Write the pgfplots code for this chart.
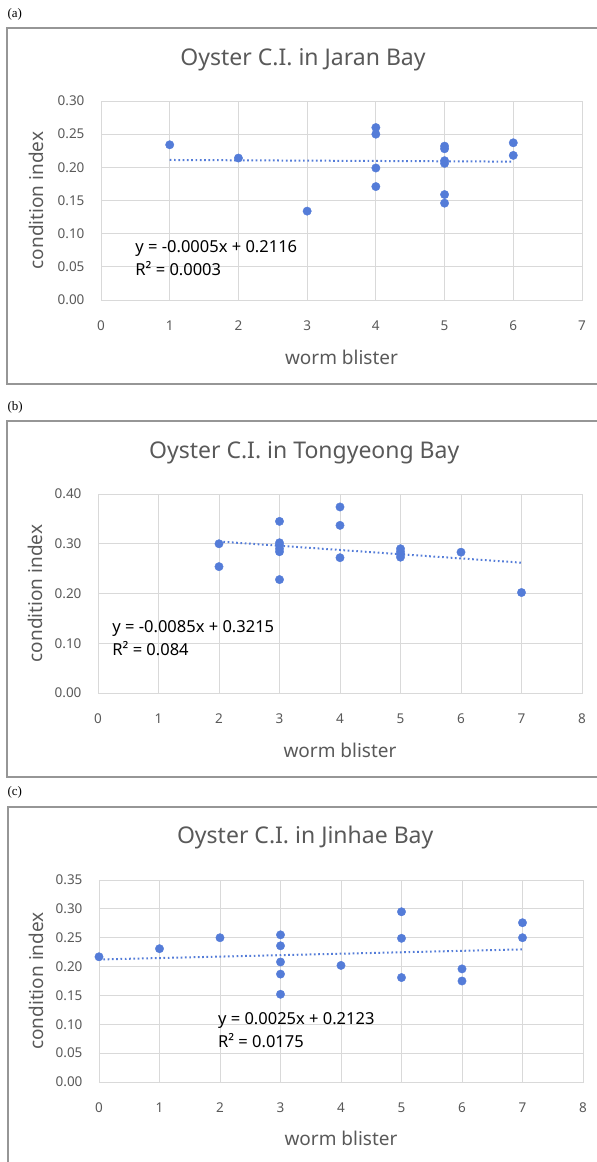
\documentclass[border=0pt]{standalone}
\usepackage{fontspec}
\setmainfont{Noto Sans}
\newfontfamily\serif{Liberation Serif}
\usepackage{pgfplots}
\pgfplotsset{compat=1.18}
\definecolor{ptblue}{RGB}{84,124,216}
\definecolor{txtgray}{RGB}{89,89,89}
\definecolor{gridgray}{RGB}{217,217,217}
\definecolor{framegray}{RGB}{150,150,150}

\pgfplotsset{
  oyster/.style={
    scale only axis,
    anchor=south west,
    xmin=0, ymin=0,
    xtick distance=1,
    grid=major,
    grid style={gridgray, line width=0.9pt},
    axis line style={gridgray, line width=0.9pt},
    major tick length=0pt,
    tick label style={txtgray, font=\fontsize{13.5}{15}\selectfont},
    /pgf/number format/assume math mode=true,
    yticklabel style={/pgf/number format/fixed, /pgf/number format/fixed zerofill,
      /pgf/number format/precision=2, xshift=-13pt},
    xticklabel style={yshift=-17pt},
    every axis title shift=0pt,
    title style={txtgray, font=\fontsize{23}{26}\selectfont, anchor=center},
    xlabel style={txtgray, font=\fontsize{19}{22}\selectfont, anchor=center},
    ylabel style={txtgray, font=\fontsize{19}{22}\selectfont, anchor=center},
    ylabel={condition index},
    xlabel={worm blister},
  },
  pts/.style={only marks, mark=*, mark size=4.2pt, ptblue},
  trend/.style={ptblue, line width=2pt, dash pattern=on 1.7pt off 2.6pt, no marks},
}
\tikzset{eq/.style={anchor=west, font=\fontsize{16.5}{20}\selectfont}}

\begin{document}
\begin{tikzpicture}[x=1pt, y=-1pt]
\clip (0,0) rectangle (597,1162);
\path[use as bounding box] (0,0) rectangle (597,1162);

% panel frames
\draw[framegray, line width=1.8pt] (7,28) rectangle (620,384);
\draw[framegray, line width=1.8pt] (7,421) rectangle (620,777);
\draw[framegray, line width=1.8pt] (8,807) rectangle (620,1190);
\node[anchor=west, font=\serif\fontsize{13}{15}\selectfont] at (4,14) {(a)};
\node[anchor=west, font=\serif\fontsize{13}{15}\selectfont] at (4,407) {(b)};
\node[anchor=west, font=\serif\fontsize{13}{15}\selectfont] at (4,792) {(c)};

% (a) Jaran Bay
\begin{axis}[oyster, at={(101pt,-300pt)}, width=481pt, height=199pt,
  xmax=7, ymax=0.30, ytick distance=0.05,
  title={Oyster C.I. in Jaran Bay},
  title style={at={(axis description cs:0.42,1.206)}},
  xlabel style={at={(axis description cs:0.5,-0.286)}},
  ylabel style={at={(axis description cs:-0.135,0.5)}}]
\addplot[pts] coordinates {
  (1,0.234) (2,0.214) (3,0.134)
  (4,0.260) (4,0.250) (4,0.199) (4,0.171)
  (5,0.232) (5,0.228) (5,0.210) (5,0.206) (5,0.159) (5,0.146)
  (6,0.237) (6,0.218)};
\addplot[trend] coordinates {(1,0.2111) (6,0.2086)};
\node[eq] at (axis cs:0.45,0.077) {y = -0.0005x + 0.2116};
\node[eq] at (axis cs:0.45,0.048) {R² = 0.0003};
\end{axis}

% (b) Tongyeong Bay
\begin{axis}[oyster, at={(98pt,-693pt)}, width=484pt, height=199pt,
  xmax=8, ymax=0.40, ytick distance=0.10,
  title={Oyster C.I. in Tongyeong Bay},
  title style={at={(axis description cs:0.426,1.206)}},
  xlabel style={at={(axis description cs:0.5,-0.286)}},
  ylabel style={at={(axis description cs:-0.130,0.5)}}]
\addplot[pts] coordinates {
  (2,0.300) (2,0.254)
  (3,0.345) (3,0.302) (3,0.297) (3,0.290) (3,0.284) (3,0.228)
  (4,0.374) (4,0.337) (4,0.272)
  (5,0.290) (5,0.284) (5,0.279) (5,0.273)
  (6,0.283) (7,0.202)};
\addplot[trend] coordinates {(2,0.3045) (7,0.2620)};
\node[eq] at (axis cs:0.18,0.129) {y = -0.0085x + 0.3215};
\node[eq] at (axis cs:0.18,0.090) {R² = 0.084};
\end{axis}

% (c) Jinhae Bay
\begin{axis}[oyster, at={(99pt,-1082pt)}, width=484pt, height=202pt,
  xmax=8, ymax=0.35, ytick distance=0.05,
  title={Oyster C.I. in Jinhae Bay},
  title style={at={(axis description cs:0.426,1.208)}},
  xlabel style={at={(axis description cs:0.5,-0.277)}},
  ylabel style={at={(axis description cs:-0.130,0.5)}}]
\addplot[pts] coordinates {
  (0,0.217) (1,0.231) (2,0.250)
  (3,0.255) (3,0.236) (3,0.208) (3,0.187) (3,0.152)
  (4,0.202)
  (5,0.295) (5,0.249) (5,0.181)
  (6,0.196) (6,0.175)
  (7,0.276) (7,0.250)};
\addplot[trend] coordinates {(0,0.2123) (7,0.2298)};
\node[eq] at (axis cs:1.91,0.106) {y = 0.0025x + 0.2123};
\node[eq] at (axis cs:1.91,0.072) {R² = 0.0175};
\end{axis}
\end{tikzpicture}
\end{document}
